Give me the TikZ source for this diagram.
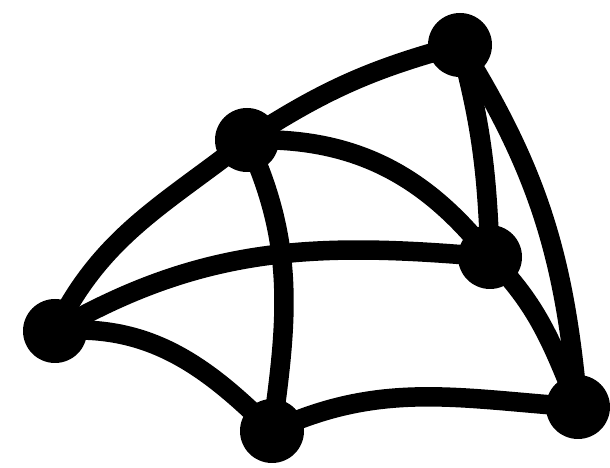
\documentclass[tikz,border=0pt]{standalone}

\begin{document}
\begin{tikzpicture}[
every node/.style={
circle,
fill=black,
inner sep=0pt,
minimum size=1.28cm
},
link/.style={
line width=0.39cm
}
]

\useasboundingbox (0,0) rectangle (12.2,9.36);

\node (A) at (1.10,2.74) {};
\node (B) at (4.94,6.56) {};
\node (C) at (9.20,8.46) {};
\node (D) at (9.80,4.22) {};
\node (E) at (5.44,0.74) {};
\node (F) at (11.56,1.22) {};

\draw[link] (A.center) to[out=64,in=218] (B.center);
\draw[link] (B.center) to[out=33,in=195] (C.center);
\draw[link] (B.center) to[out=2,in=128] (D.center);
\draw[link] (A.center) to[out=30,in=175] (D.center);
\draw[link] (A.center) to[out=5,in=135] (E.center);
\draw[link] (E.center) to[out=25,in=176] (F.center);
\draw[link] (B.center) to[out=-65,in=82] (E.center);
\draw[link] (C.center) to[out=-75,in=92] (D.center);
\draw[link] (C.center) to[out=-58,in=95] (F.center);
\draw[link] (D.center) to[out=-45,in=112] (F.center);

\end{tikzpicture}
\end{document}
